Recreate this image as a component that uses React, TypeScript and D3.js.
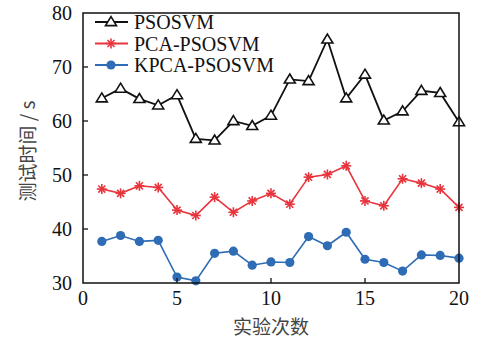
import React from "react";
import * as d3 from "d3";

const xs = [1, 2, 3, 4, 5, 6, 7, 8, 9, 10, 11, 12, 13, 14, 15, 16, 17, 18, 19, 20];
const psosvm = [64.2, 66.0, 64.1, 62.9, 64.8, 56.7, 56.4, 60.0, 59.1, 61.0, 67.7, 67.4, 75.1, 64.2, 68.6, 60.1, 61.8, 65.6, 65.2, 59.8];
const pcaPsosvm = [47.4, 46.6, 48.0, 47.7, 43.5, 42.5, 45.9, 43.1, 45.2, 46.6, 44.6, 49.6, 50.1, 51.7, 45.2, 44.3, 49.3, 48.5, 47.4, 44.0];
const kpcaPsosvm = [37.7, 38.8, 37.7, 37.9, 31.1, 30.4, 35.5, 35.9, 33.3, 33.9, 33.8, 38.6, 36.9, 39.4, 34.4, 33.8, 32.2, 35.2, 35.1, 34.6];
const seriesNames = ["PSOSVM", "PCA-PSOSVM", "KPCA-PSOSVM"];
const xTicks = [0, 5, 10, 15, 20];
const yTicks = [30, 40, 50, 60, 70, 80];

const W = 482, H = 341;
const L = 83, R = 459, T = 13, B = 283;

export default function App() {
  const x = d3.scaleLinear().domain([0, 20]).range([L, R]);
  const y = d3.scaleLinear().domain([30, 80]).range([B, T]);
  const line = d3.line<number>().x((_, i) => x(xs[i])).y((d) => y(d));
  const colors = ["#111", "#e8343c", "#2e6cb5"];
  const datas = [psosvm, pcaPsosvm, kpcaPsosvm];
  const serif = { fontFamily: "Liberation Serif" };
  const cjk = { fontFamily: "Noto Sans CJK SC" };

  const triPath = (cx: number, cy: number) => {
    const w = 5.5, h = 9;
    return `M${cx},${cy - h * 0.6}L${cx + w},${cy + h * 0.4}L${cx - w},${cy + h * 0.4}Z`;
  };
  const star = (cx: number, cy: number, c: string, k: string) => {
    const r = 5;
    const angles = [0, 45, 90, 135];
    return (
      <g key={k}>
        {angles.map((a) => {
          const rad = (a * Math.PI) / 180;
          const dx = Math.cos(rad) * r, dy = Math.sin(rad) * r;
          return <line key={a} x1={cx - dx} y1={cy - dy} x2={cx + dx} y2={cy + dy} stroke={c} strokeWidth={1.6} />;
        })}
      </g>
    );
  };
  const marker = (si: number, cx: number, cy: number, k: string) => {
    if (si === 0) return <path key={k} d={triPath(cx, cy)} fill="#fff" stroke={colors[0]} strokeWidth={1.6} />;
    if (si === 1) return star(cx, cy, colors[1], k);
    return <circle key={k} cx={cx} cy={cy} r={4.6} fill={colors[2]} />;
  };

  return (
    <svg width={W} height={H} style={{ position: "absolute", left: 0, top: 0, background: "#fff" }}>
      <rect x={0} y={0} width={W} height={H} fill="#fff" />
      {datas.map((d, si) => (
        <g key={si}>
          <path d={line(d) || ""} fill="none" stroke={colors[si]} strokeWidth={si === 0 ? 1.8 : 1.6} />
          {d.map((v, i) => marker(si, x(xs[i]), y(v), `${si}-${i}`))}
        </g>
      ))}
      <rect x={L} y={T} width={R - L} height={B - T} fill="none" stroke="#111" strokeWidth={1.5} />
      {yTicks.map((t) => (
        <g key={t}>
          {t !== 30 && t !== 80 && <line x1={L} x2={L + 5} y1={y(t)} y2={y(t)} stroke="#111" strokeWidth={1.3} />}
          <text x={72} y={y(t)} dy="0.35em" textAnchor="end" style={serif} fontSize={20} fill="#111">{t}</text>
        </g>
      ))}
      {xTicks.map((t) => (
        <g key={t}>
          {t !== 0 && t !== 20 && <line x1={x(t)} x2={x(t)} y1={B} y2={B - 5} stroke="#111" strokeWidth={1.3} />}
          <text x={x(t)} y={305} textAnchor="middle" style={serif} fontSize={20} fill="#111">{t}</text>
        </g>
      ))}
      <text x={271} y={334} textAnchor="middle" style={cjk} fontSize={19} fill="#444">实验次数</text>
      <text transform={`translate(35,151) rotate(-90)`} textAnchor="middle" style={cjk} fontSize={19} fill="#444">测试时间 / s</text>
      {seriesNames.map((n, si) => {
        const ly = 22 + si * 21.5;
        return (
          <g key={n}>
            <line x1={95} x2={128} y1={ly} y2={ly} stroke={colors[si]} strokeWidth={1.8} />
            {marker(si, 111, ly, `lg-${si}`)}
            <text x={134} y={ly} dy="0.35em" style={serif} fontSize={20} fill="#111">{n}</text>
          </g>
        );
      })}
    </svg>
  );
}
